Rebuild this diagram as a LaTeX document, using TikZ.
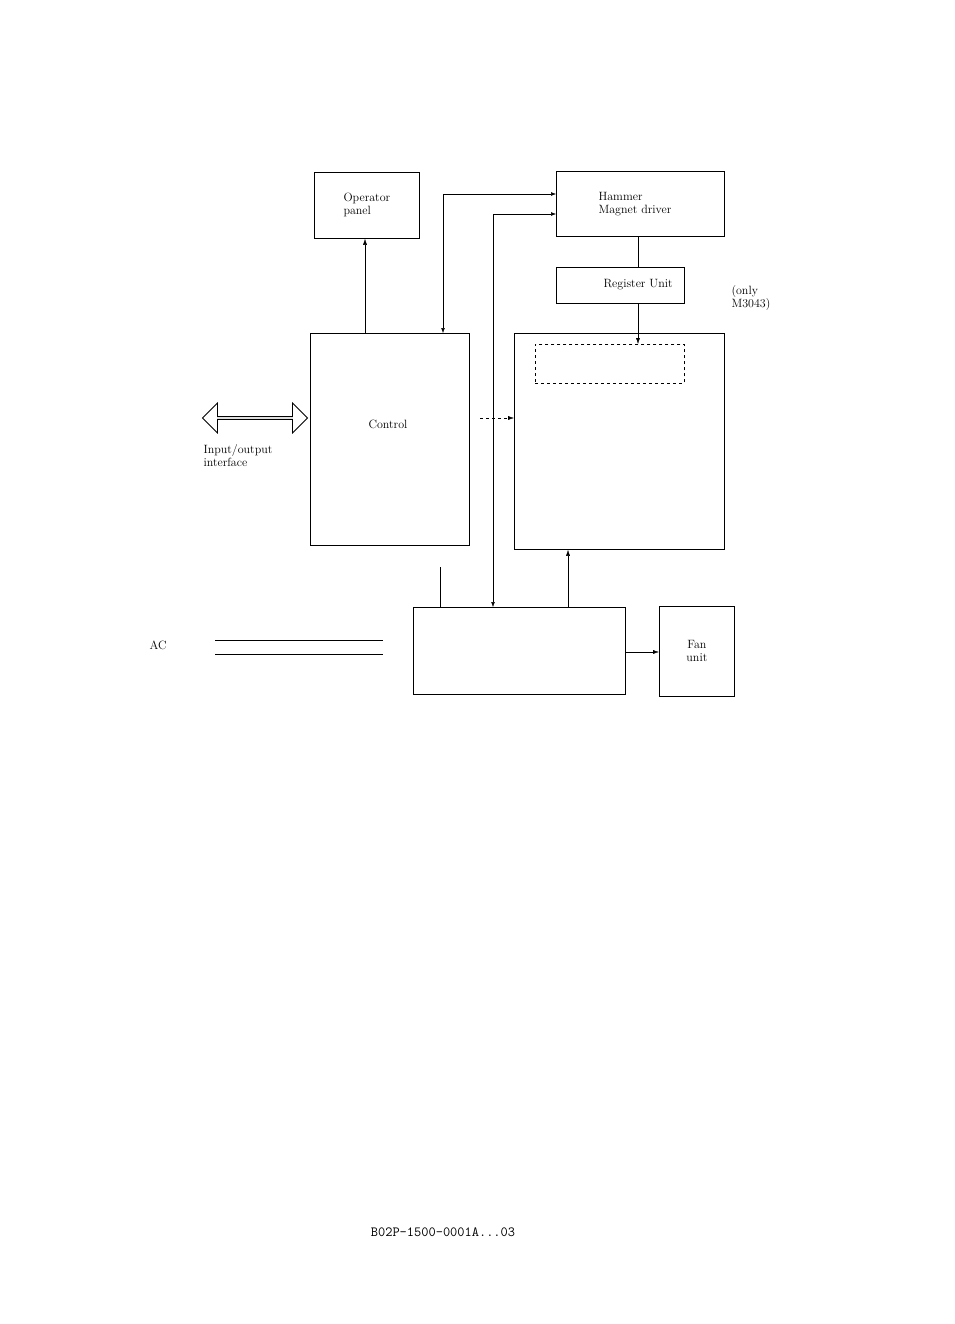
\documentclass[tikz,border=0pt]{standalone}
\usepackage{tikz}
\usetikzlibrary{shapes.arrows,arrows.meta}
\begin{document}
\begin{tikzpicture}[x=1pt,y=-1pt,
    blk/.style={draw,thick,anchor=north west,inner sep=0pt},
    lbl/.style={font=\fontsize{12}{13}\selectfont,align=left},
    sig/.style={-{Latex[length=6pt,width=4pt]}}]
        \useasboundingbox (0,0) rectangle (954,1324);

        % boxes
        \node[blk,minimum width=105,minimum height=66] (oppanel) at (314,172) {};
        \node[blk,minimum width=168,minimum height=65] (hammer) at (556,171) {};
        \node[blk,minimum width=128,minimum height=36] (register) at (556,267) {};
        \node[blk,minimum width=159,minimum height=212] (control) at (310,333) {};
        \node[blk,minimum width=210,minimum height=216] (mech) at (514,333) {};
        \node[draw,dashed,thick,anchor=north west,minimum width=149,minimum height=39,inner sep=0pt] (magnet) at (535,344) {};
        \node[blk,minimum width=212,minimum height=87] (power) at (413,607) {};
        \node[blk,minimum width=75,minimum height=90] (fan) at (659,606) {};

        % texts
        \node[lbl] at (oppanel.center) {Operator\\panel};
        \node[lbl,anchor=west] at (595,204) {Hammer\\Magnet driver};
        \node[lbl,anchor=west] at (600,285) {Register Unit};
        \node[lbl,anchor=west] at (728,298) {(only\\M3043)};
        \node[lbl] at (388,424) {Control};
        \node[lbl,align=center] at (fan.center) {Fan\\unit};
        \node[lbl] at (158,645) {AC};
        \node[lbl,anchor=north west] at (200,441) {Input/output\\interface};
        \node[draw,thick,double arrow,double arrow head extend=4pt,minimum width=30,minimum height=105,inner sep=0pt,anchor=center] (io) at (255,418) {};
        \node[font=\ttfamily\fontsize{14}{16}\selectfont] at (443,1232) {B02P-1500-0001A...03};

        % connectors
        \draw[sig] (control.north -| 365,0) -- (oppanel.south -| 365,0);
        \draw[Latex-Latex] (443,333) -- (443,194) -- (hammer.west |- 0,194);
        \draw[Latex-Latex] (493,607) -- (493,214) -- (hammer.west |- 0,214);
        \draw (hammer.south -| 638,0) -- (register.north -| 638,0);
        \draw[sig] (register.south -| 638,0) -- (magnet.north -| 638,0);
        \draw[sig] (power.north -| 568,0) -- (mech.south -| 568,0);
        \draw[sig] (power.east |- 0,652) -- (fan.west |- 0,652);
        \draw (440,567) -- (power.north -| 440,0);
        \draw[sig,dashed] (480,418) -- (mech.west |- 0,418);
        \draw[thick] (215,640) -- (383,640);
        \draw[thick] (215,654) -- (383,654);
\end{tikzpicture}
\end{document}
